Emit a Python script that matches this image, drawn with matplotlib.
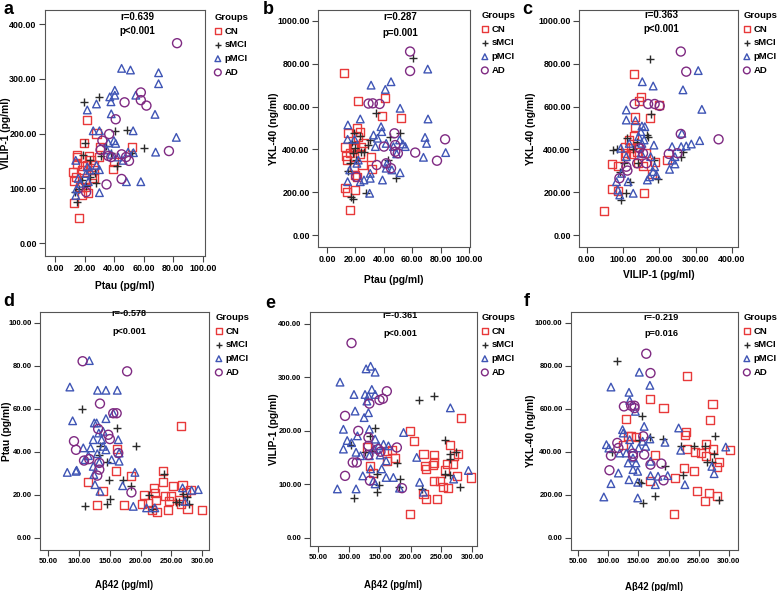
import matplotlib
matplotlib.use('Agg')
import matplotlib.pyplot as plt
from matplotlib.ticker import FormatStrFormatter

plt.rcParams['font.family'] = ['Liberation Sans', 'DejaVu Sans']
plt.rcParams['font.weight'] = 'bold'

W, H = 778, 591

# =============================================================================
# data (one list of (x, y) per panel & group)
# =============================================================================
GROUPS = ['CN', 'sMCI', 'pMCI', 'AD']

# (a) Ptau vs VILIP-1
a_cn = [(16, 46), (12.8, 73), (12, 130), (12.8, 113), (14.6, 160), (15, 157), (21.8, 224),
        (19.6, 183), (18, 87), (17, 102), (19, 140), (21.8, 142), (23, 159), (24, 151),
        (26, 142), (26.4, 133), (24.7, 124), (20, 115), (28, 200), (30, 157), (30.3, 176),
        (39, 136), (40, 148), (52, 176), (15, 145), (18, 133), (14, 121), (21, 102),
        (22, 91), (26, 118)]
a_smci = [(19.8, 257), (30, 267), (20, 183), (19, 160), (23.6, 152), (27, 127), (27.7, 110),
          (15, 75), (13.5, 93), (16.4, 99), (18, 115), (40.4, 205), (48.8, 206), (60, 174),
          (51.7, 165), (42, 140), (34.4, 177), (37.8, 165), (31, 159), (23.6, 121), (21, 105)]
a_pmci = [(45, 319), (51, 316), (70, 311), (70, 291), (40.4, 279), (40.4, 270), (37, 267),
          (37.8, 258), (28, 254), (21.8, 243), (54.6, 270), (67.6, 235), (38, 236),
          (25.8, 205), (30, 205), (39.8, 187), (41, 182), (36, 183), (52.8, 205), (82, 193),
          (68, 166), (53, 165), (49.4, 166), (42.7, 157), (46, 151), (48.3, 112), (58, 112),
          (30, 92), (30, 134), (28, 142), (14, 151), (15.7, 118), (17, 109), (14.6, 99),
          (14, 87), (21, 127), (23.6, 133), (21.8, 139), (22.5, 112), (35, 170), (38, 162)]
a_ad = [(82.5, 365), (58, 275), (58, 261), (61.8, 251), (47, 257), (41, 226), (36.6, 199),
        (32, 187), (30.8, 170), (38, 157), (45, 162), (48, 157), (50, 150), (77, 168),
        (36, 159), (45, 117), (34.8, 107), (21, 93)]

# (b) Ptau vs YKL-40
b_cn = [(11.7, 755), (21.5, 626), (41, 641), (38.8, 556), (51.9, 545), (12.9, 409),
        (14.5, 475), (21, 498), (23, 483), (21.5, 459), (25.7, 428), (23.8, 413), (18.7, 405),
        (16.4, 382), (18.7, 366), (23.4, 379), (13.6, 369), (14, 350), (25, 327), (18.7, 319),
        (20, 280), (21, 271), (12.4, 221), (14, 202), (20, 210), (15.9, 117), (31.5, 307),
        (30.8, 366), (20, 413)]
b_smci = [(60.3, 825), (34.6, 572), (44, 460), (51.4, 475), (48.6, 265), (42.8, 350),
          (27.6, 198), (16.8, 179), (18.2, 167), (14.5, 299), (16, 335), (18.2, 382),
          (20, 405), (17.5, 436), (18.7, 475), (23, 463), (24, 389), (28.5, 420), (30.4, 444),
          (25.7, 389), (20.5, 350)]
b_pmci = [(70.8, 775), (45, 716), (41, 680), (31, 700), (51.4, 592), (71, 542), (23.4, 542),
          (14.7, 514), (38, 506), (19.4, 447), (14.5, 447), (32.7, 467), (35.5, 452),
          (38.5, 483), (41.6, 428), (46.7, 413), (51, 444), (53.3, 425), (55, 413), (49, 379),
          (68.9, 456), (70, 428), (67.8, 363), (83.4, 385), (42, 332), (41.6, 312), (39, 257),
          (51.4, 291), (30.4, 288), (30.4, 265), (26, 257), (23.4, 249), (30, 195), (14.5, 249),
          (16, 304), (21, 335), (22, 350), (34, 413), (45.6, 304)]
b_ad = [(58.4, 857), (58.4, 766), (29.2, 614), (32.2, 615), (37, 612), (47.4, 475), (83, 447),
        (77.3, 347), (62, 385), (47.9, 420), (40, 413), (48, 389), (49.8, 382), (41.6, 335),
        (45, 312), (35, 327), (20.6, 272)]

# (c) VILIP-1 vs YKL-40
c_cn = [(46.8, 114), (70.6, 213), (86, 207), (158, 198), (130, 752), (144, 626), (149, 643),
        (134, 550), (175, 545), (200, 607), (134, 503), (130, 463), (106, 413), (109, 385),
        (117, 444), (123, 405), (139, 389), (141, 413), (141, 335), (155, 322), (164, 382),
        (187, 343), (222, 350), (180, 285), (70, 330), (86, 324), (106, 369), (121, 378)]
c_smci = [(175, 821), (178, 565), (166, 467), (169, 456), (185, 350), (196, 260), (259, 366),
          (266, 389), (141, 338), (72, 397), (84, 400), (111, 452), (118, 249), (109, 198),
          (95, 164), (92, 296), (103, 335), (128, 400), (139, 436)]
c_pmci = [(307, 768), (265, 678), (183, 696), (153, 716), (317, 587), (109, 584), (134, 534),
          (109, 537), (152, 509), (160, 506), (235, 413), (262, 475), (260, 413), (274, 416),
          (288, 425), (311, 441), (243, 366), (235, 350), (228, 307), (243, 332), (185, 420),
          (176, 366), (187, 319), (183, 296), (192, 280), (173, 272), (167, 257), (128, 195),
          (91, 187), (86, 210), (82, 249), (96, 288), (114, 249), (143, 460), (149, 483),
          (117, 428), (94, 405), (109, 366), (150, 382), (158, 444), (152, 428)]
c_ad = [(259, 857), (274, 763), (132, 612), (169, 612), (187, 612), (201, 603), (259, 472),
        (363, 447), (250, 382), (226, 379), (146, 405), (155, 382), (164, 335), (139, 335),
        (109, 319), (112, 301), (90, 265)]

# (d) Abeta42 vs Ptau
d_cn = [(264.8, 52.2), (161, 41.4), (160, 31), (184, 29), (138, 22), (114, 26), (128.5, 15.2),
        (173, 15.2), (201.5, 16), (205, 20), (221.5, 23.3), (223, 21), (224.7, 17.8), (226, 12),
        (236.7, 25.9), (235.6, 31), (239, 19.4), (244.8, 12.9), (250, 19.7), (252, 24),
        (268, 24.8), (273.5, 21.2), (281, 22.5), (276, 13.6), (299, 12.9), (261.6, 17.8),
        (246.4, 17), (266, 16), (219, 13.2), (212, 16.3)]
d_smci = [(104, 60), (193, 43), (146, 35.3), (149, 26.8), (172, 27), (184, 24.3), (150, 18),
          (146, 16), (109.5, 14.7), (237.8, 29.8), (214, 20), (219, 13.5), (257, 16.6),
          (262.6, 16.6), (268, 20.6), (274.6, 19), (279, 16), (133, 38.8), (134, 42.6),
          (162, 51.2)]
d_pmci = [(116.6, 82.5), (85, 70.2), (143.6, 68.7), (130, 68.7), (162, 68.7), (89.5, 54.5),
          (124.7, 53.5), (143.6, 55.5), (155.5, 58), (139, 49.6), (128.5, 53.5), (132, 48.8),
          (123, 45.7), (136.6, 45.7), (163.6, 45.7), (106.8, 41.9), (118.7, 41.9), (139, 42.6),
          (143.6, 41), (129.5, 39.2), (165, 39.5), (152.8, 36.4), (165, 35.7), (132.8, 35.2),
          (115, 38.3), (109.5, 36.4), (96, 31.5), (80.8, 30.5), (95, 31), (123, 33.3),
          (124, 29.5), (190.7, 30.5), (170.7, 24.3), (133.9, 21.7), (125.8, 24.8), (188, 14.7),
          (209.6, 14), (223, 14), (268, 23.3), (282.7, 22.2), (293.5, 22.5), (272, 17)]
d_ad = [(105.7, 82.2), (178, 77.5), (133.9, 62.5), (155.5, 58), (161, 58), (147.4, 48),
        (150, 46), (131, 50.7), (163.6, 39.5), (91.7, 45), (95, 41), (108, 36), (116.5, 36.7),
        (132.8, 34.9), (132.8, 31.8), (129.5, 29), (185, 21.2)]

# (e) Abeta42 vs VILIP-1
e_cn = [(282, 223.5), (198.4, 200), (205, 181), (221, 157), (237.5, 155), (238.6, 141),
        (224, 135), (225, 129), (199.5, 45), (225.5, 73), (243, 73), (221, 82), (238.6, 107),
        (247.3, 107), (252.7, 95), (261, 93), (256.5, 126), (259, 138), (263.6, 174), (269, 138),
        (270, 153.6), (277, 157), (275.5, 115), (298, 113), (169.6, 165), (175, 149),
        (161, 163), (161, 144), (134, 135), (128.8, 169), (138.6, 121), (236, 136)]
e_smci = [(214, 257.6), (237.5, 266), (256.5, 183), (263.6, 147), (264.7, 157), (274.5, 161),
          (255.4, 119.5), (263.6, 117.6), (280, 94.7), (218.5, 91.6), (183, 110), (181.8, 94.7),
          (177.7, 140), (142.4, 206), (134, 190.7), (103, 173), (108.7, 74.3), (145, 86.7),
          (149, 99.7), (146, 119.5), (137, 163), (126, 161)]
e_pmci = [(85.3, 291), (127.7, 315.8), (135, 320.7), (142.4, 309.6), (108, 268), (137, 277.4),
          (142.4, 268), (126, 268), (129, 255.7), (131.5, 265), (109.8, 237), (124.5, 224.8),
          (131.5, 234), (264.7, 243), (90.8, 203), (113.6, 190.7), (133, 203), (142.4, 184.5),
          (104, 178), (97, 182), (90.8, 166), (111.4, 160), (118.6, 153.6), (133, 153.6),
          (140.8, 166), (148, 172), (156, 175), (164, 172), (150.5, 155), (160.3, 144),
          (153, 129), (160.3, 113), (139.7, 107), (135, 129), (122.3, 116), (81, 91.6),
          (111.4, 91.6), (142.4, 101), (172, 113), (182, 93), (188.6, 197), (210, 150.5),
          (214.7, 104), (221, 85.4), (270, 110), (294, 126)]
e_ad = [(104, 364), (93.5, 228), (115, 200), (131.5, 187.6), (133, 251), (149.5, 257.6),
        (155, 260), (161.4, 274), (177.7, 169), (147.4, 166), (151, 161), (131.5, 172),
        (131.5, 155), (134, 107), (93.5, 116), (106, 141), (112.5, 141), (186, 93)]

# (f) Abeta42 vs YKL-40
f_cn = [(230.6, 755), (169.7, 646.5), (191.6, 604.7), (272.8, 624.8), (268, 547), (130, 555),
        (138, 476), (146, 470), (178, 387.6), (168.6, 263.6), (211, 279), (229, 491),
        (227, 480.6), (230.6, 414), (225, 325.6), (242.3, 310), (243.4, 398), (253, 395),
        (262.6, 438.8), (262, 383), (274.3, 414), (279.7, 330), (284, 352), (302, 407.8),
        (247.6, 217), (261, 170.5), (266.3, 209), (279.7, 197), (209, 113), (124.8, 434),
        (133, 473)]
f_smci = [(115, 825), (155.8, 569), (170, 470), (190, 460.5), (194, 333), (178, 197), (158, 163),
          (151.5, 259), (154, 256), (220, 429), (223.6, 294.6), (242, 429), (261, 426),
          (263.7, 352), (271.7, 352), (277, 476), (275.4, 392), (284, 175), (106, 398),
          (150.4, 457)]
f_pmci = [(92.7, 190.7), (104.5, 252.7), (104.5, 702), (97, 434), (101, 418), (116.8, 302),
          (119, 395), (123.7, 504), (134.4, 677.5), (135.5, 640), (145, 589), (151.5, 771),
          (169, 710), (135.5, 457), (138, 418.6), (141, 372), (146, 349), (148.8, 310),
          (148.8, 259), (148.8, 186), (150.4, 418.6), (157, 449.6), (169, 460.5), (170, 356.6),
          (170, 290), (178, 248), (182.5, 287), (194, 445), (198.5, 290), (216.7, 511.6),
          (220, 408), (227, 248), (271.7, 333), (275.4, 299), (294.7, 423), (159.5, 519),
          (124.8, 488), (130, 395), (133, 349), (141, 318), (134.4, 271), (162, 426)]
f_ad = [(163, 857), (170, 767), (126, 612), (138, 615), (143.5, 615), (143.5, 604), (158, 473),
        (104.5, 383), (102, 315), (115, 442), (116.8, 418.6), (141, 392), (141, 380),
        (159.5, 387.6), (170, 341), (188, 346), (191.6, 268)]

STATS = {'a': ('r=0.639', 'p<0.001'), 'b': ('r=0.287', 'p=0.001'), 'c': ('r=0.363', 'p<0.001'),
         'd': ('r=-0.578', 'p<0.001'), 'e': ('r=-0.361', 'p<0.001'), 'f': ('r=-0.219', 'p=0.016')}

# =============================================================================
# style
# =============================================================================
STYLE = {
    'CN':   dict(marker='s', color='#e8393a', s=34),
    'sMCI': dict(marker='+', color='#2b2b2b', s=40),
    'pMCI': dict(marker='^', color='#3f55b5', s=30),
    'AD':   dict(marker='o', color='#7f2a82', s=42),
}

# text sizes: top row / bottom row (the lower panels are printed a bit smaller)
SIZES = {'top': dict(tick=6.4, xl=7.4, st=7.0), 'bot': dict(tick=5.5, xl=6.9, st=6.6)}

# box in pixels: left, top, right, bottom
# st = stat text (x, y1, y2); lg = legend top-left; let = panel letter;
# ylx = y-label centre x; xly = x-label centre y
PANELS = [
    dict(key='a', row='top', data=[a_cn, a_smci, a_pmci, a_ad], box=(45, 10, 205, 256),
         xlim=(-6.8, 101.4), ylim=(-23.7, 425.6), xt=range(0, 101, 20), yt=range(0, 401, 100),
         xl='Ptau (pg/ml)', yl='VILIP-1 (pg/ml)', st=(137, 17, 31), lg=(215, 13), let=(3, 1),
         ylx=6.5, xly=286),
    dict(key='b', row='top', data=[b_cn, b_smci, b_pmci, b_ad], box=(318, 10, 470, 247),
         xlim=(-6.3, 100.5), ylim=(-56, 1051), xt=range(0, 101, 20), yt=range(0, 1001, 200),
         xl='Ptau (pg/ml)', yl='YKL-40 (ng/ml)', st=(400, 17, 33), lg=(482, 11), let=(263, 1),
         ylx=274, xly=280),
    dict(key='c', row='top', data=[c_cn, c_smci, c_pmci, c_ad], box=(579, 10, 738, 247),
         xlim=(-21.2, 416.5), ylim=(-56, 1051), xt=range(0, 401, 100), yt=range(0, 1001, 200),
         xl='VILIP-1 (pg/ml)', yl='YKL-40 (ng/ml)', st=(661, 15, 29), lg=(744, 11), let=(522, 1),
         ylx=531.5, xly=275),
    dict(key='d', row='bot', data=[d_cn, d_smci, d_pmci, d_ad], box=(40, 312, 209, 550),
         xlim=(36.5, 311), ylim=(-5.6, 105.1), xt=range(50, 301, 50), yt=range(0, 101, 20),
         xl='Aβ42 (pg/ml)', yl='Ptau (pg/ml)', st=(129, 313, 331), lg=(216, 313), let=(3, 293),
         ylx=7.5, xly=585),
    dict(key='e', row='bot', data=[e_cn, e_smci, e_pmci, e_ad], box=(310, 312, 477, 546),
         xlim=(36.5, 308), ylim=(-15, 422), xt=range(50, 301, 50), yt=range(0, 401, 100),
         xl='Aβ42 (pg/ml)', yl='VILIP-1 (pg/ml)', st=(400, 315, 333), lg=(482, 313), let=(265, 295),
         ylx=274, xly=585),
    dict(key='f', row='bot', data=[f_cn, f_smci, f_pmci, f_ad], box=(571, 312, 738, 550),
         xlim=(38.3, 315), ylim=(-56, 1051), xt=range(50, 301, 50), yt=range(0, 1001, 200),
         xl='Aβ42 (pg/ml)', yl='YKL-40 (ng/ml)', st=(661, 317, 333), lg=(744, 313), let=(524, 293),
         ylx=531.5, xly=587),
]


def fx(x):
    return x / W


def fy(y):
    return 1 - y / H


fig = plt.figure(figsize=(W / 100, H / 100), dpi=100)

for p in PANELS:
    sz = SIZES[p['row']]
    l, t, r, b = p['box']
    ax = fig.add_axes([fx(l), fy(b), (r - l) / W, (b - t) / H])
    for g, pts in zip(GROUPS, p['data']):
        st = STYLE[g]
        xs = [q[0] for q in pts]
        ys = [q[1] for q in pts]
        if st['marker'] == '+':
            ax.scatter(xs, ys, marker='+', c=st['color'], s=st['s'], linewidths=1.0, label=g)
        else:
            ax.scatter(xs, ys, marker=st['marker'], facecolors='none', edgecolors=st['color'],
                       s=st['s'], linewidths=1.0, label=g)

    ax.set_xlim(*p['xlim'])
    ax.set_ylim(*p['ylim'])
    ax.set_xticks(list(p['xt']))
    ax.set_yticks(list(p['yt']))
    ax.xaxis.set_major_formatter(FormatStrFormatter('%.2f'))
    ax.yaxis.set_major_formatter(FormatStrFormatter('%.2f'))
    ax.tick_params(direction='out', length=4.5, width=0.8, color='#444', pad=1.5,
                   labelsize=sz['tick'])
    for sp in ax.spines.values():
        sp.set_color('#555')
        sp.set_linewidth(0.8)

    # axis titles at fixed spots, like the reference
    fig.text(fx((l + r) / 2), fy(p['xly']), p['xl'], ha='center', va='center',
             fontsize=sz['xl'], fontweight='bold')
    fig.text(fx(p['ylx']), fy((t + b) / 2), p['yl'], ha='center', va='center',
             rotation=90, fontsize=7.4, fontweight='bold')

    sx, sy1, sy2 = p['st']
    r_txt, p_txt = STATS[p['key']]
    fig.text(fx(sx), fy(sy1), r_txt, ha='center', va='center', fontsize=sz['st'], fontweight='bold')
    fig.text(fx(sx), fy(sy2), p_txt, ha='center', va='center', fontsize=sz['st'], fontweight='bold')

    lx, ly = p['lg']
    ax.legend(loc='upper left', bbox_to_anchor=(fx(lx), fy(ly)),
              bbox_transform=fig.transFigure, frameon=False, title='Groups',
              prop={'size': 6.8, 'weight': 'bold'},
              title_fontproperties={'size': 6.8, 'weight': 'bold'},
              handlelength=0.6, handletextpad=0.4, labelspacing=0.5, markerscale=0.75,
              borderpad=0, borderaxespad=0, alignment='left')

    kx, ky = p['let']
    fig.text(fx(kx), fy(ky), p['key'], ha='left', va='top', fontsize=13, fontweight='bold')

fig.savefig('out.png', dpi=100)
